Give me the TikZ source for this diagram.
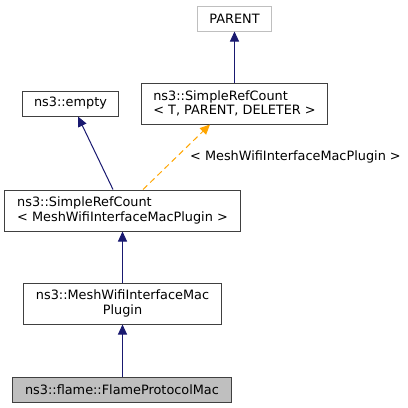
\documentclass[tikz,border=0pt]{standalone}
\usepackage{fontspec}
\setmainfont{DejaVu Sans}
\usetikzlibrary{arrows.meta}
\definecolor{edgeblue}{HTML}{191970}
\definecolor{boxline}{HTML}{404040}
\definecolor{lightline}{HTML}{BFBFBF}
\definecolor{fillgray}{HTML}{BFBFBF}
\definecolor{dashorange}{HTML}{FFA500}
\tikzset{
  cls/.style={draw=boxline, line width=1bp, inner sep=0pt, font=\fontsize{12.9}{14.3}\selectfont},
  clsleft/.style={cls, align=left},
  clscenter/.style={cls, align=center},
  inherit/.style={draw=edgeblue, line width=1bp, -{Triangle[width=9bp,length=10bp]}},
  templ/.style={draw=dashorange, line width=1bp, dashed, dash pattern=on 6bp off 4bp, -{Triangle[width=9bp,length=10bp]}},
  lbl/.style={inner sep=0pt, font=\fontsize{12.9}{14.3}\selectfont}
}
\begin{document}
\begin{tikzpicture}[x=1bp,y=-1bp]
\useasboundingbox (0,0) rectangle (408,408);
\node[clscenter, draw=lightline, minimum width=73bp, minimum height=25bp] (parent) at (234.5,18.5) {PARENT};
\node[clsleft, minimum width=185bp, minimum height=41bp] (srcT) at (234.5,103.5) {ns3::SimpleRefCount\\< T, PARENT, DELETER >};
\node[clscenter, minimum width=95bp, minimum height=25bp] (empty) at (70.5,103.5) {ns3::empty};
\node[clsleft, minimum width=235bp, minimum height=41bp] (srcM) at (122.5,210.5) {ns3::SimpleRefCount\\< MeshWifiInterfaceMacPlugin >};
\node[clscenter, minimum width=197bp, minimum height=41bp] (mwimp) at (122.5,303.5) {ns3::MeshWifiInterfaceMac\\Plugin};
\node[clscenter, fill=fillgray, minimum width=218bp, minimum height=25bp] (fpm) at (122,389.5) {ns3::flame::FlameProtocolMac};
\draw[inherit] (srcT.north -| parent.south) -- (parent.south);
\draw[inherit] ([xshift=-9.5bp]srcM.north) -- ([xshift=7.5bp]empty.south);
\draw[templ] ([xshift=20.5bp]srcM.north) -- ([xshift=-24.5bp]srcT.south);
\node[lbl, anchor=west] (tlabel) at (190,157) {< MeshWifiInterfaceMacPlugin >};
\draw[inherit] (mwimp.north -| srcM.south) -- (srcM.south);
\draw[inherit] (fpm.north -| mwimp.south) -- (mwimp.south);
\end{tikzpicture}
\end{document}
